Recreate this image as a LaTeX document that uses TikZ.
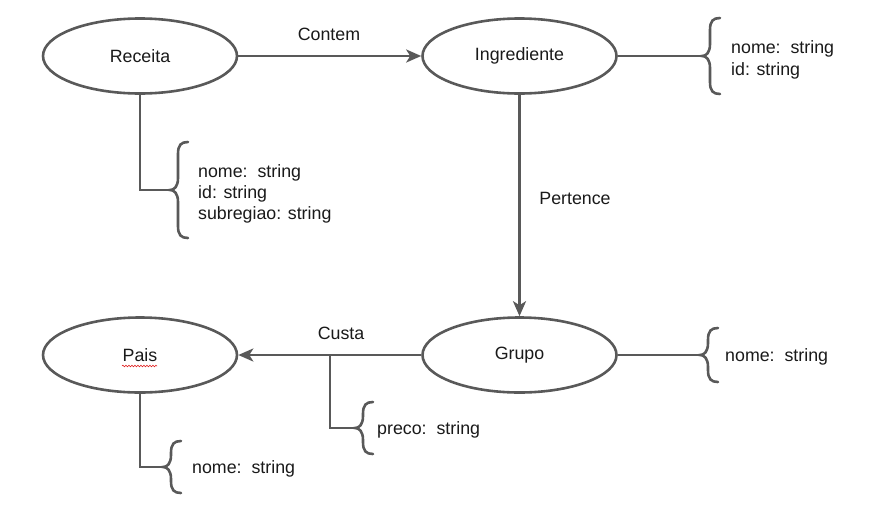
\documentclass[tikz,border=0pt]{standalone}
\usepackage{fontspec}
\setmainfont{Liberation Sans}
\usetikzlibrary{shapes.geometric,arrows.meta,decorations.pathmorphing}
\definecolor{linegray}{HTML}{595959}
\definecolor{ink}{HTML}{1A1A1A}
\definecolor{spellred}{HTML}{E02020}
\newcommand{\labelfont}{\fontsize{17.8}{21}\selectfont}
\tikzset{
  entity/.style={ellipse, draw=linegray, line width=2.6pt, fill=white,
    minimum width=194pt, minimum height=75pt, inner sep=0pt,
    text=ink, font=\labelfont},
  conn/.style={draw=linegray, line width=2.6pt},
  flow/.style={conn, -{Stealth[length=15pt,width=13pt,inset=4pt]}},
  lbl/.style={text=ink, font=\labelfont, inner sep=0pt},
  attrtext/.style={lbl, anchor=base west},
  % curly brace opening to the right; tip at the pic origin, #1 = half height
  pics/attrbrace/.style={code={
    \draw[conn, line cap=round]
      (18,-#1) .. controls (11,-#1) and (8,-#1+3) .. (8,-#1+12)
      -- (8,-12) .. controls (8,-3) and (4,0) .. (0,0)
      .. controls (4,0) and (8,3) .. (8,12)
      -- (8,#1-12) .. controls (8,#1-3) and (11,#1) .. (18,#1);
  }},
}
\begin{document}
\begin{tikzpicture}[x=1pt,y=-1pt]
  \fill[white] (0,0) rectangle (894,512);
  \useasboundingbox (0,0) rectangle (894,512);

  % entities
  \node[entity] (receita)     at (140,56)    {Receita};
  \node[entity] (ingrediente) at (519.5,56)  {Ingrediente};
  \node[entity] (grupo)       at (519.5,355) {Grupo};
  \node[entity] (pais)        at (140,355)   {Pais};
  \draw[spellred, line width=0.6pt, decorate,
        decoration={snake, amplitude=0.8pt, segment length=3pt}]
        (122,366) -- (157,366);

  % relationships
  \draw[flow] (receita) -- (ingrediente);
  \node[lbl, anchor=base] (contem) at (329,40) {Contem};
  \draw[flow] (ingrediente) -- (grupo);
  \node[lbl, anchor=base] (pertence) at (575,204) {Pertence};
  \draw[flow] (grupo) -- (pais);
  \node[lbl, anchor=base] (custa) at (341,339) {Custa};

  % attribute brace tips
  \coordinate (ingtip)   at (702,56);
  \coordinate (rectip)   at (170,190);
  \coordinate (grutip)   at (700,355);
  \coordinate (custajoin) at (330,355);
  \coordinate (custip)   at (355,428);
  \coordinate (paitip)   at (163,467);

  % Ingrediente attributes
  \draw[conn] (ingrediente.east) -- (ingtip);
  \pic at (ingtip) {attrbrace=38};
  \node[attrtext] (ingnome) at (731,53) {nome:\ \ string};
  \node[attrtext] (ingid)   at (731,75) {id: string};

  % Receita attributes
  \draw[conn] (receita.south) |- (rectip);
  \pic at (rectip) {attrbrace=48};
  \node[attrtext] (recnome) at (198,177) {nome:\ \ string};
  \node[attrtext] (recid)   at (198,198) {id: string};
  \node[attrtext] (recsub)  at (198,219) {subregiao: string};

  % Grupo attributes
  \draw[conn] (grupo.east) -- (grutip);
  \pic at (grutip) {attrbrace=27};
  \node[attrtext] (grunome) at (725,361) {nome:\ \ string};

  % Custa attributes
  \draw[conn] (custajoin) |- (custip);
  \pic at (custip) {attrbrace=26};
  \node[attrtext] (cuspreco) at (377,434) {preco:\ \ string};

  % Pais attributes
  \draw[conn] (pais.south) |- (paitip);
  \pic at (paitip) {attrbrace=26};
  \node[attrtext] (painome) at (192,473) {nome:\ \ string};
\end{tikzpicture}
\end{document}
